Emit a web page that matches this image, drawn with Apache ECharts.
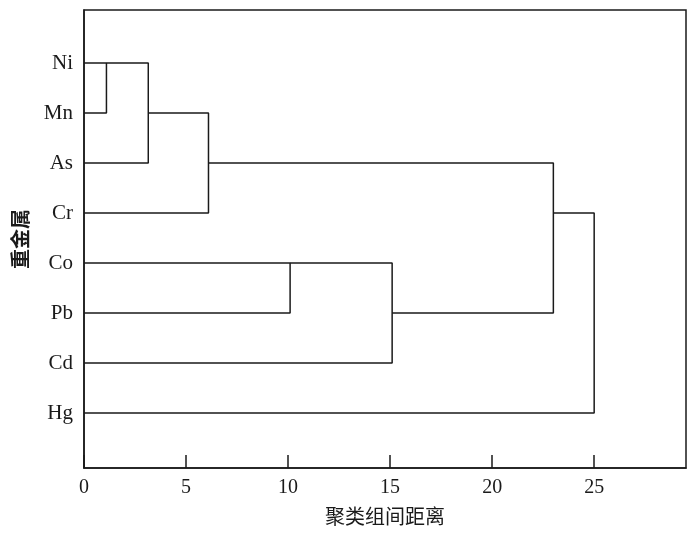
<!DOCTYPE html>
<html>
<head>
<meta charset="utf-8">
<script src="https://cdn.jsdelivr.net/npm/echarts@6/dist/echarts.min.js"></script>
<style>html,body{margin:0;padding:0;background:#fff;}#c{width:700px;height:533px;}</style>
</head>
<body>
<div id="c"></div>
<script>
// Leaves (rows top to bottom)
const metals = ['Ni', 'Mn', 'As', 'Cr', 'Co', 'Pb', 'Cd', 'Hg'];
// Merge steps: upper branch, lower branch (leaf name or 'm<index>'), distance, row of new node
const mergeUpper = ['Ni', 'm0', 'm1', 'Co', 'm3', 'm2', 'm5'];
const mergeLower = ['Mn', 'As', 'Cr', 'Pb', 'Cd', 'm4', 'Hg'];
const mergeDistance = [1.1, 3.15, 6.1, 10.1, 15.1, 23.0, 25.0];
const mergeNodeRow = [0, 1, 2, 4, 5, 3, 3];
const xTicks = [0, 5, 10, 15, 20, 25];
const yTicks = [0, 1, 2, 3, 4, 5, 6, 7];

function nodePos(ref) {
  if (ref[0] === 'm') {
    const i = parseInt(ref.slice(1), 10);
    return [mergeDistance[i], mergeNodeRow[i]];
  }
  return [0, metals.indexOf(ref)];
}

const series = mergeDistance.map((d, i) => {
  const a = nodePos(mergeUpper[i]);
  const b = nodePos(mergeLower[i]);
  return {
    type: 'line',
    data: [[a[0], a[1]], [d, a[1]], [d, b[1]], [b[0], b[1]]],
    symbol: 'none',
    animation: false,
    lineStyle: { color: '#1a1a1a', width: 1.5 },
    z: 3
  };
});

const chart = echarts.init(document.getElementById('c'), null, { renderer: 'canvas' });
chart.setOption({
  backgroundColor: '#fff',
  animation: false,
  grid: {
    left: 84, right: 14, top: 10, bottom: 65,
    outerBoundsMode: 'none',
    containLabel: false,
    show: true, borderColor: '#1a1a1a', borderWidth: 1.5, backgroundColor: 'transparent'
  },
  xAxis: {
    type: 'value',
    min: 0, max: 29.5,
    name: '聚类组间距离',
    nameLocation: 'middle',
    nameGap: 38,
    nameTextStyle: { fontFamily: 'Noto Sans CJK SC', fontSize: 20, color: '#1a1a1a' },
    axisLine: { show: true, onZero: false, lineStyle: { color: '#1a1a1a', width: 1.5 } },
    axisTick: { show: true, inside: true, length: 13, customValues: xTicks, lineStyle: { color: '#1a1a1a', width: 1.5 } },
    axisLabel: { customValues: xTicks, fontFamily: 'Liberation Serif', fontSize: 20, color: '#1a1a1a', margin: 10 },
    splitLine: { show: false }
  },
  yAxis: {
    type: 'value',
    inverse: true,
    min: -1.06, max: 8.1,
    name: '重金属',
    nameLocation: 'middle',
    nameGap: 54,
    nameRotate: 90,
    nameTextStyle: { fontFamily: 'Noto Sans CJK SC', fontSize: 20, fontWeight: 'bold', color: '#1a1a1a' },
    axisLine: { show: true, onZero: false, lineStyle: { color: '#1a1a1a', width: 1.5 } },
    axisTick: { show: false },
    axisLabel: {
      customValues: yTicks,
      formatter: v => metals[Math.round(v)] || '',
      fontFamily: 'Liberation Serif', fontSize: 21, color: '#1a1a1a', margin: 11
    },
    splitLine: { show: false }
  },
  series: series
});
</script>
</body>
</html>
